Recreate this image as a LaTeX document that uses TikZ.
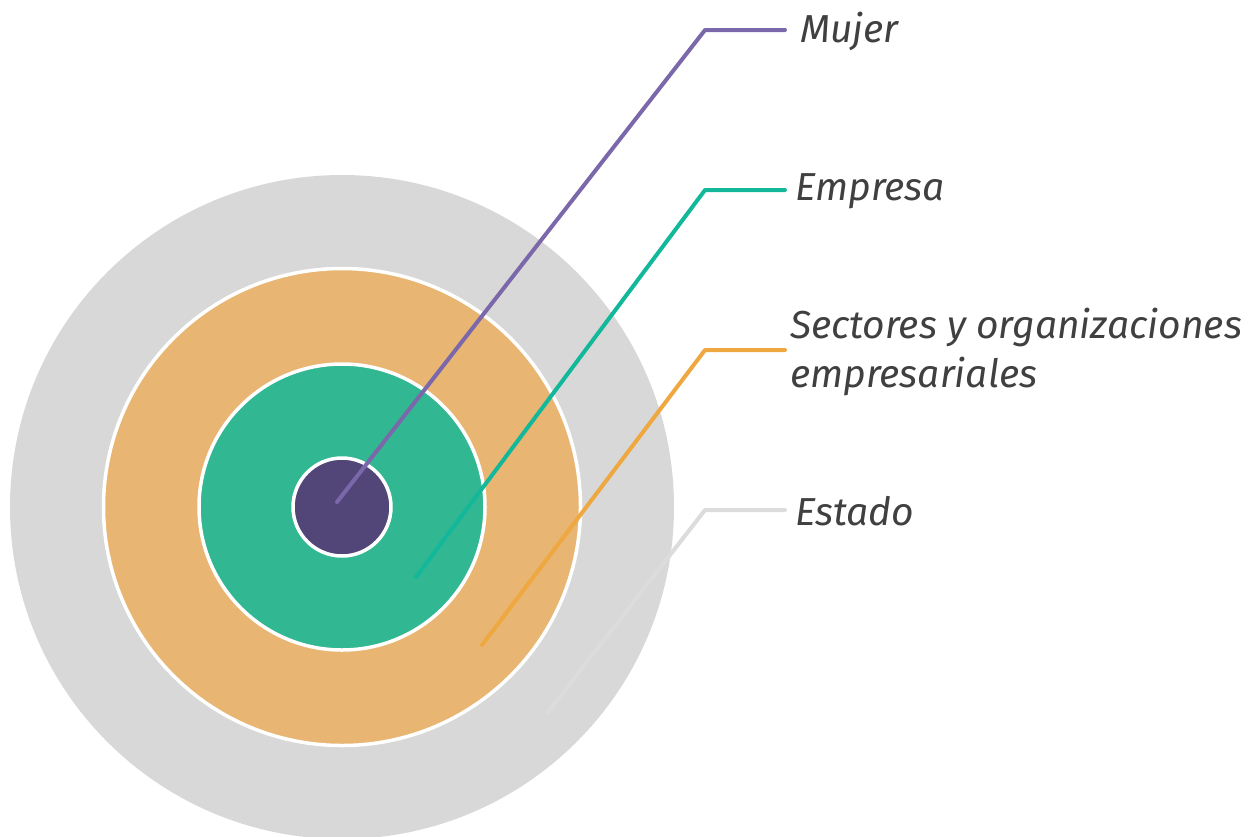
\documentclass[tikz,border=0pt]{standalone}
\usepackage{fontspec}
\setmainfont{Fira Sans}
\definecolor{cgray}{HTML}{D8D8D8}
\definecolor{corange}{HTML}{E8B573}
\definecolor{cgreen}{HTML}{31B792}
\definecolor{cpurple}{HTML}{524678}
\definecolor{lpurple}{HTML}{7B68AA}
\definecolor{lgreen}{HTML}{13B89A}
\definecolor{lorange}{HTML}{EFA740}
\definecolor{lgray}{HTML}{DCDCDC}
\definecolor{ctext}{HTML}{404040}
\begin{document}
\begin{tikzpicture}[x=1pt,y=-1pt,
  ring/.style={circle,draw=white,line width=3.5pt,inner sep=0pt},
  leader/.style={line width=4pt,line cap=round,line join=round},
  lab/.style={anchor=west,inner sep=0pt,text=ctext,font=\fontsize{39}{49}\selectfont\itshape,align=left}]
\useasboundingbox (0,0) rectangle (1253,836);
\begin{scope}
\clip (0,0) rectangle (1253,836);
\node[ring,fill=cgray,draw=none,minimum size=664pt] (estadoc) at (342,507) {};
\node[ring,fill=corange,minimum size=477pt] (sectc) at (342,507) {};
\node[ring,fill=cgreen,minimum size=286pt] (empc) at (342,507) {};
\node[ring,fill=cpurple,minimum size=98pt] (mujc) at (342,507) {};
\end{scope}
\coordinate (m0) at (337,502);
\coordinate (m1) at (705,30);
\coordinate (m2) at (785,30);
\coordinate (e0) at (416,577);
\coordinate (e1) at (705,190);
\coordinate (e2) at (785,190);
\coordinate (s0) at (482,645);
\coordinate (s1) at (705,350);
\coordinate (s2) at (785,350);
\coordinate (t0) at (548,712);
\coordinate (t1) at (705,510);
\coordinate (t2) at (785,510);
\draw[leader,lgray] (t0) -- (t1) -- (t2);
\draw[leader,lorange] (s0) -- (s1) -- (s2);
\draw[leader,lgreen] (e0) -- (e1) -- (e2);
\draw[leader,lpurple] (m0) -- (m1) -- (m2);
\node[lab] (mujer) at (800,31) {Mujer};
\node[lab] (empresa) at (795,191) {Empresa};
\node[lab] (sectores) at (790,352) {Sectores y organizaciones\\empresariales};
\node[lab] (estado) at (795,511) {Estado};
\end{tikzpicture}
\end{document}
